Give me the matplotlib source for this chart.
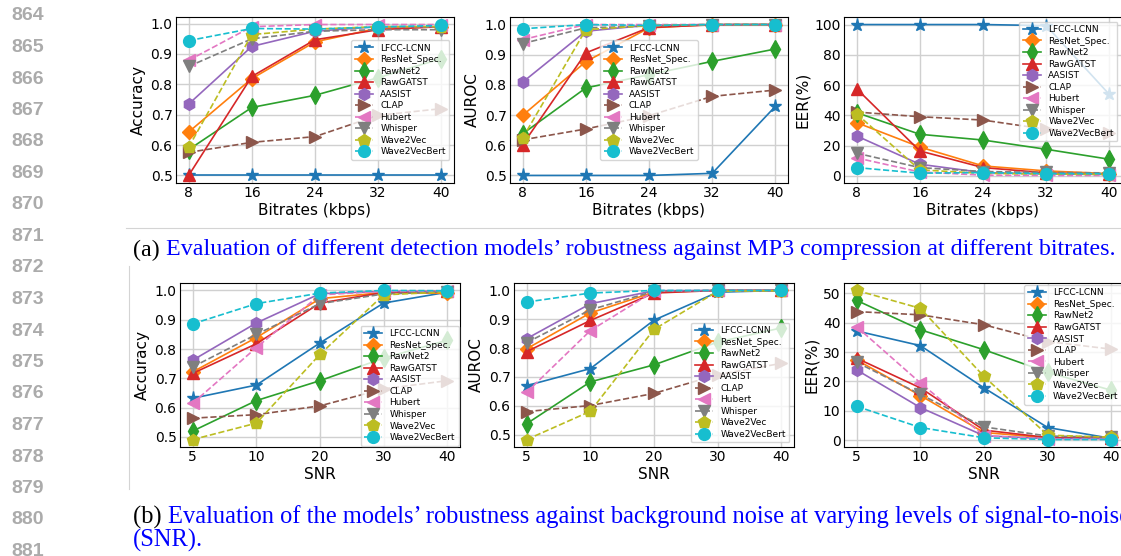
import matplotlib
matplotlib.use('Agg')
import matplotlib.pyplot as plt
from matplotlib.lines import Line2D
from matplotlib.ticker import MultipleLocator

W, H = 1121, 556
DPI = 100

models = ['LFCC-LCNN', 'ResNet_Spec.', 'RawNet2', 'RawGATST', 'AASIST',
          'CLAP', 'Hubert', 'Whisper', 'Wave2Vec', 'Wave2VecBert']
bitrates = [8, 16, 24, 32, 40]
snr_labels = ['5', '10', '20', '30', '40']

# rows follow `models`
mp3_accuracy = [
    [0.500, 0.500, 0.500, 0.500, 0.500],
    [0.643, 0.819, 0.940, 0.985, 0.990],
    [0.585, 0.724, 0.764, 0.822, 0.885],
    [0.500, 0.826, 0.947, 0.980, 0.990],
    [0.735, 0.925, 0.975, 0.990, 0.990],
    [0.576, 0.609, 0.628, 0.698, 0.720],
    [0.879, 0.990, 0.997, 0.997, 0.997],
    [0.859, 0.950, 0.975, 0.980, 0.980],
    [0.593, 0.964, 0.982, 0.990, 0.990],
    [0.944, 0.984, 0.982, 0.989, 0.994],
]
mp3_auroc = [
    [0.500, 0.500, 0.500, 0.507, 0.729],
    [0.699, 0.877, 0.989, 1.000, 1.000],
    [0.638, 0.790, 0.834, 0.878, 0.919],
    [0.602, 0.906, 0.990, 0.999, 1.000],
    [0.809, 0.978, 0.998, 1.000, 1.000],
    [0.618, 0.654, 0.698, 0.762, 0.783],
    [0.950, 1.000, 1.000, 1.000, 1.000],
    [0.937, 0.989, 0.995, 1.000, 1.000],
    [0.624, 0.983, 0.997, 1.000, 1.000],
    [0.986, 1.000, 0.997, 1.000, 1.000],
]
mp3_eer = [
    [100.0, 100.0, 100.0, 99.3, 53.8],
    [35.2, 19.1, 6.6, 3.3, 1.5],
    [41.8, 27.5, 23.7, 17.6, 11.0],
    [57.6, 16.5, 5.5, 2.0, 1.0],
    [26.4, 7.7, 2.2, 1.3, 1.0],
    [42.2, 39.1, 36.9, 30.8, 28.6],
    [11.9, 2.6, 0.5, 0.3, 0.3],
    [15.0, 5.5, 2.9, 2.3, 2.0],
    [41.0, 4.0, 1.7, 1.2, 1.0],
    [5.5, 1.8, 2.2, 1.5, 1.5],
]
snr_accuracy = [
    [0.632, 0.677, 0.821, 0.957, 0.994],
    [0.722, 0.839, 0.972, 0.993, 0.990],
    [0.520, 0.624, 0.692, 0.769, 0.830],
    [0.717, 0.818, 0.957, 0.993, 0.997],
    [0.762, 0.889, 0.989, 0.997, 0.997],
    [0.564, 0.576, 0.606, 0.664, 0.692],
    [0.615, 0.805, 0.985, 0.997, 0.997],
    [0.739, 0.850, 0.955, 0.988, 0.995],
    [0.491, 0.547, 0.782, 0.985, 0.995],
    [0.886, 0.955, 0.991, 1.000, 0.999],
]
snr_auroc = [
    [0.670, 0.729, 0.897, 0.994, 1.000],
    [0.798, 0.922, 0.994, 1.000, 1.000],
    [0.538, 0.683, 0.742, 0.821, 0.870],
    [0.788, 0.896, 0.991, 1.000, 1.000],
    [0.833, 0.954, 0.999, 1.000, 1.000],
    [0.580, 0.601, 0.643, 0.708, 0.747],
    [0.647, 0.861, 0.997, 1.000, 1.000],
    [0.819, 0.933, 0.997, 1.000, 1.000],
    [0.483, 0.581, 0.865, 0.997, 0.999],
    [0.960, 0.991, 1.000, 1.000, 1.000],
]
snr_eer = [
    [37.2, 32.2, 17.8, 4.3, 0.6],
    [27.3, 15.2, 2.6, 0.8, 1.0],
    [47.6, 37.6, 30.8, 23.1, 17.0],
    [27.9, 17.8, 3.4, 0.9, 0.6],
    [23.9, 11.1, 1.5, 0.5, 0.5],
    [43.8, 42.7, 39.3, 33.6, 31.0],
    [38.6, 19.5, 1.5, 0.4, 0.3],
    [26.5, 15.6, 4.5, 1.4, 1.0],
    [51.0, 44.9, 21.7, 1.7, 1.0],
    [11.5, 4.3, 0.8, 0.2, 0.2],
]

line_numbers = list(range(864, 882))
caption_a = ('(a) ', 'Evaluation of different detection models\u2019 robustness against MP3 compression at different bitrates.')
caption_b = ('(b) ', 'Evaluation of the models\u2019 robustness against background noise at varying levels of signal-to-noise ratio')
caption_b_visible = '(b) Evaluation of the models\u2019 robustness against background noise at varying levels of signal-to-nois'
caption_b2 = '(SNR).'

colors = ['C%d' % i for i in range(10)]
markers = ['*', 'D', 'd', '^', 'h', '>', '<', 'v', 'p', 'o']
msizes = [9.5, 7, 9, 8, 8.5, 8, 8, 8, 9, 8.5]
lstyles = ['-'] * 5 + ['--'] * 5

fig = plt.figure(figsize=(W / DPI, H / DPI), dpi=DPI)

def box(x0, x1, y0, y1):
    return [x0 / W, 1 - y1 / H, (x1 - x0) / W, (y1 - y0) / H]

panels = [
    (box(176, 454, 17, 183), bitrates, mp3_accuracy, 'Accuracy', 'Bitrates (kbps)', 0.1, dict(loc='center right', borderaxespad=0.5)),
    (box(510, 788, 17, 183), bitrates, mp3_auroc, 'AUROC', 'Bitrates (kbps)', 0.1, dict(loc='center', borderaxespad=0.5)),
    (box(844, 1122, 17, 183), bitrates, mp3_eer, 'EER(%)', 'Bitrates (kbps)', 20, dict(loc='upper right', borderaxespad=0.5)),
    (box(180, 460, 283, 447), snr_labels, snr_accuracy, 'Accuracy', 'SNR', 0.1, dict(loc='lower right', borderaxespad=0.15)),
    (box(514, 794, 283, 447), snr_labels, snr_auroc, 'AUROC', 'SNR', 0.1, dict(loc='lower right', borderaxespad=0.5)),
    (box(844, 1124, 283, 447), snr_labels, snr_eer, 'EER(%)', 'SNR', 10, dict(loc='upper right', borderaxespad=0.2)),
]

for rect, xs, data, ylab, xlab, ystep, legkw in panels:
    ax = fig.add_axes(rect)
    if isinstance(xs[0], str):
        xpos = list(range(len(xs)))
    else:
        xpos = xs
    for i, name in enumerate(models):
        ax.plot(xpos, data[i], color=colors[i], marker=markers[i], markersize=msizes[i],
                linestyle=lstyles[i], linewidth=1.2, label=name)
    ax.set_xticks(xpos)
    ax.set_xticklabels([str(x) for x in xs])
    ax.yaxis.set_major_locator(MultipleLocator(ystep))
    ax.grid(True, color='#d0d0d0', linewidth=1.0)
    ax.set_axisbelow(True)
    ax.tick_params(length=0, pad=2.5, labelsize=10)
    ax.set_ylabel(ylab, fontsize=11, labelpad=3)
    ax.set_xlabel(xlab, fontsize=11, labelpad=2)
    ax.legend(fontsize=6.5, labelspacing=0.28, borderpad=0.4, handlelength=2.0,
              handletextpad=0.8, **legkw)

# line numbers
for i, n in enumerate(line_numbers):
    fig.text(44 / W, 1 - (16 + 31.5 * i) / H, str(n), ha='right', va='center',
             fontsize=14, fontweight='bold', family='Liberation Sans', color='#ababab')

# faint frame lines
fig.add_artist(Line2D([126 / W, 1.0], [1 - 228 / H] * 2, transform=fig.transFigure,
                      color='#d4d4d4', linewidth=0.8))
fig.add_artist(Line2D([129 / W] * 2, [1 - 266 / H, 1 - 489 / H], transform=fig.transFigure,
                      color='#d4d4d4', linewidth=0.8))

# captions
renderer = fig.canvas.get_renderer()

def fit_size(s, target):
    probe = fig.text(0, 0, s, fontsize=10, family='Liberation Serif')
    w = probe.get_window_extent(renderer).width
    probe.remove()
    return 10 * target / w

fs_a = fit_size(caption_a[0] + caption_a[1], 982.0)
fs_b = fit_size(caption_b_visible, 990.0)

def caption(x0, ypx, prefix, body, fs):
    t1 = fig.text(x0 / W, 1 - ypx / H, prefix, fontsize=fs, family='Liberation Serif',
                  color='black', va='center', ha='left')
    wp = t1.get_window_extent(renderer).width
    fig.text((x0 + wp) / W, 1 - ypx / H, body, fontsize=fs, family='Liberation Serif',
             color='#0000ff', va='center', ha='left')

caption(133, 250, caption_a[0], caption_a[1], fs_a)
caption(133, 517, caption_b[0], caption_b[1], fs_b)
fig.text(133 / W, 1 - 540 / H, caption_b2, fontsize=fs_b, family='Liberation Serif',
         color='#0000ff', va='center', ha='left')

fig.savefig('out.png', dpi=DPI)
